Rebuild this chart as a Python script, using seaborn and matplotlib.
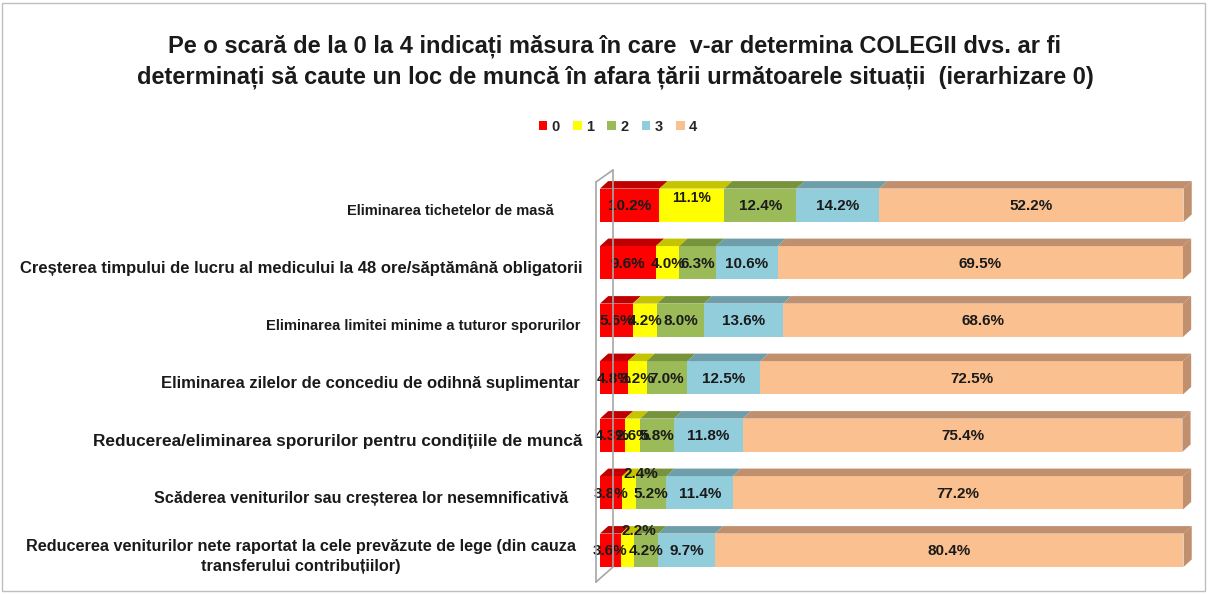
import numpy as np
import pandas as pd
import matplotlib
matplotlib.use('Agg')
import matplotlib.pyplot as plt
import matplotlib.transforms as mtransforms
import seaborn as sns
from matplotlib.patches import Patch, Polygon, Rectangle
from matplotlib.lines import Line2D

# date din grafic
categorii = [
    'Eliminarea tichetelor de masă',
    'Creșterea timpului de lucru al medicului la 48 ore/săptămână obligatorii',
    'Eliminarea limitei minime a tuturor sporurilor',
    'Eliminarea zilelor de concediu de odihnă suplimentar',
    'Reducerea/eliminarea sporurilor pentru condițiile de muncă',
    'Scăderea veniturilor sau creșterea lor nesemnificativă',
    'Reducerea veniturilor nete raportat la cele prevăzute de lege (din cauza\ntransferului contribuțiilor)',
]
nivele = ['0', '1', '2', '3', '4']
val_0 = [10.2, 9.6, 5.6, 4.8, 4.3, 3.8, 3.6]
val_1 = [11.1, 4.0, 4.2, 3.2, 2.6, 2.4, 2.2]
val_2 = [12.4, 6.3, 8.0, 7.0, 5.8, 5.2, 4.2]
val_3 = [14.2, 10.6, 13.6, 12.5, 11.8, 11.4, 9.7]
val_4 = [52.2, 69.5, 68.6, 72.5, 75.4, 77.2, 80.4]

culori = ['#FF0000', '#FFFF00', '#9BBB59', '#92CDDC', '#FAC090']
culori_sus = ['#C00000', '#C4C400', '#77933C', '#6F9EAB', '#BF8F6E']
marimi_etichete = [10.5, 12, 10.6, 12, 12.4, 11.6, 11.7]
dist_etichete = [46, 17, 20, 20, 18, 32, 24]  # px de la bara

titlu = ('Pe o scară de la 0 la 4 indicați măsura în care  v-ar determina COLEGII dvs. ar fi\n'
         'determinați să caute un loc de muncă în afara țării următoarele situații  (ierarhizare 0)')

sns.set_style('white')
plt.rcParams['font.family'] = ['Liberation Sans', 'DejaVu Sans']

df = pd.DataFrame({'cat': categorii, '0': val_0, '1': val_1, '2': val_2, '3': val_3, '4': val_4})
cum = df[nivele].cumsum(axis=1)

W, H = 1208, 594
fig = plt.figure(figsize=(W / 100, H / 100), dpi=100)
ax = fig.add_axes([600 / W, 1 - 579 / H, 583 / W, 402.5 / H])

latime = 0.58
# stivuire: desenam suma cumulata de la ultimul nivel spre primul
for i in reversed(range(len(nivele))):
    sns.barplot(x=cum[nivele[i]], y=df['cat'], color=culori[i], orient='h',
                width=latime, saturation=1, ax=ax, linewidth=0)

ax.set_xlim(0, 100)
ax.set_ylim(6.5, -0.5)

# fata de sus (efect 3D)
dx, dy = 1.4, 0.13
for r in range(len(categorii)):
    sus = r - latime / 2
    jos = r + latime / 2
    for i in range(len(nivele)):
        st = cum[nivele[i]][r] - df[nivele[i]][r]
        dr = cum[nivele[i]][r]
        ax.add_patch(Polygon([(st, sus), (st + dx, sus - dy), (dr + dx, sus - dy), (dr, sus)],
                             closed=True, facecolor=culori_sus[i], edgecolor='none', clip_on=False))
    tot = cum['4'][r]
    ax.add_patch(Polygon([(tot, sus), (tot + dx, sus - dy), (tot + dx, jos - dy), (tot, jos)],
                         closed=True, facecolor=culori_sus[4], edgecolor='none', clip_on=False))

# etichete valori
for r in range(len(categorii)):
    for i in range(len(nivele)):
        v = df[nivele[i]][r]
        x = cum[nivele[i]][r] - v / 2
        y = r + 0.02
        fs = 11
        if i == 1 and v < 2.5:
            y = r - 0.33
            x += 2
        if i == 1 and v > 10:
            y = r - 0.12
            fs = 10
        ax.text(x, y, f'{v:.1f}%', ha='center', va='center', fontsize=fs,
                fontweight='bold', color='#1a1a1a')

# etichete categorii
ax.set_xlabel('')
ax.set_ylabel('')
ax.set_xticks([])
ax.set_yticks(range(len(categorii)))
ax.set_yticklabels([])
ax.tick_params(axis='y', length=0)
trans = mtransforms.blended_transform_factory(ax.transAxes, ax.transData)
for r, (cat, fs, d) in enumerate(zip(categorii, marimi_etichete, dist_etichete)):
    t = mtransforms.offset_copy(trans, fig=fig, x=-d, y=-6, units='dots')
    ax.text(0, r, cat, transform=t, ha='right', va='center', fontsize=fs,
            fontweight='bold', multialignment='center', linespacing=1.45, color='#1a1a1a')
for s in ax.spines.values():
    s.set_visible(False)

# peretele lateral
gri = '#A6A6A6'
def px(x, y):
    return (x / W, 1 - y / H)
for a, b in [((596, 182), (596, 582)), ((596, 582), (613, 567)), ((613, 567), (613, 170)), ((596, 182), (613, 170))]:
    p1, p2 = px(*a), px(*b)
    fig.add_artist(Line2D([p1[0], p2[0]], [p1[1], p2[1]], color=gri, lw=1.2, transform=fig.transFigure))

fig.text(615 / W, 1 - 62 / H, titlu, ha='center', va='center', fontsize=17,
         fontweight='bold', linespacing=1.4, color='#1a1a1a')

handles = [Patch(facecolor=c, edgecolor='none', label=n) for c, n in zip(culori, nivele)]
leg = fig.legend(handles=handles, loc='center', bbox_to_anchor=(618 / W, 1 - 127 / H), ncol=5,
                 frameon=False, handlelength=0.6, handleheight=0.6, handletextpad=0.3,
                 columnspacing=0.9, prop={'weight': 'bold', 'size': 10.5})

fig.add_artist(Rectangle((2 / W, 3 / H), 1 - 5 / W, 1 - 6 / H, transform=fig.transFigure,
                         fill=False, edgecolor='#BFBFBF', lw=1))

fig.savefig('out.png', dpi=100)
